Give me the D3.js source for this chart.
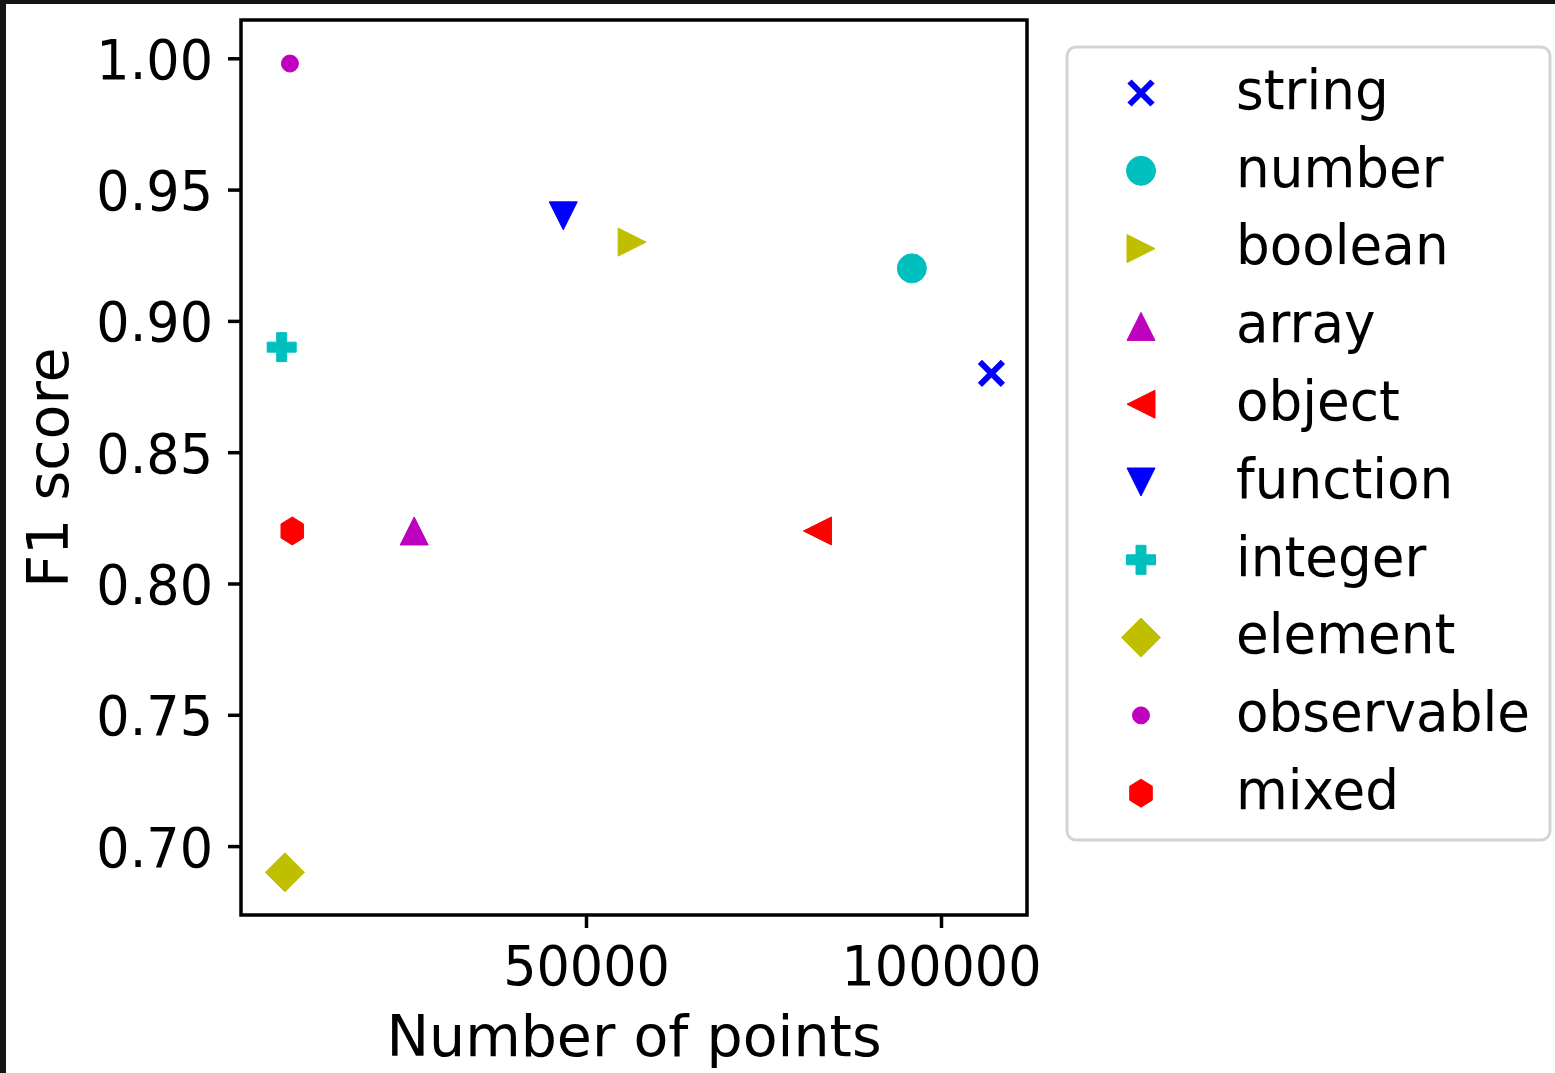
<!DOCTYPE html>
<html>
<head>
<meta charset="utf-8">
<script src="https://cdn.jsdelivr.net/npm/d3@7"></script>
<style>
  html, body { margin: 0; padding: 0; background: #ffffff; }
  svg { display: block; }
  text { font-family: "DejaVu Sans", sans-serif; fill: #000; }
</style>
</head>
<body>
<script>
// ---- data ----
const categories = ["string", "number", "boolean", "array", "object", "function", "integer", "element", "observable", "mixed"];
const numPoints  = [107100, 95900, 56500, 25800, 82600, 46800, 7140, 7600, 8300, 8630];
const f1Scores   = [0.88, 0.92, 0.93, 0.82, 0.82, 0.94, 0.89, 0.69, 0.998, 0.82];
const markerTypes = ["x", "o", ">", "^", "<", "v", "P", "D", ".", "h"];
const markerColors = ["#0000ff", "#00bfbf", "#bfbf00", "#bf00bf", "#ff0000", "#0000ff", "#00bfbf", "#bfbf00", "#bf00bf", "#ff0000"];
const xTickValues = [50000, 100000];
const yTickValues = [0.70, 0.75, 0.80, 0.85, 0.90, 0.95, 1.00];
const xLabel = "Number of points";
const yLabel = "F1 score";

// ---- layout ----
const W = 1555, H = 1073;
const plot = { left: 241, right: 1027, top: 20, bottom: 915 };
const tickFont = 55, labelFont = 57;

const svg = d3.select("body").append("svg").attr("width", W).attr("height", H);
svg.append("rect").attr("width", W).attr("height", H).attr("fill", "#ffffff");
// dark screenshot frame top & left
svg.append("rect").attr("x", 0).attr("y", 0).attr("width", W).attr("height", 4).attr("fill", "#141414");
svg.append("rect").attr("x", 0).attr("y", 0).attr("width", 6).attr("height", H).attr("fill", "#141414");

const x = d3.scaleLinear().domain([1408, 112113]).range([plot.left, plot.right]);
const y = d3.scaleLinear().domain([0.67376, 1.01458]).range([plot.bottom, plot.top]);

function condense(sel, factor) {
  sel.each(function () {
    const len = this.getComputedTextLength();
    d3.select(this).attr("textLength", len * factor).attr("lengthAdjust", "spacingAndGlyphs");
  });
}

// marker path generator
function markerPath(type) {
  const p = d3.path();
  const h = 14;
  switch (type) {
    case "o": p.arc(0, 0, 14.5, 0, 2 * Math.PI); break;
    case ".": p.arc(0, 0, 8.5, 0, 2 * Math.PI); break;
    case "^": p.moveTo(0, -h); p.lineTo(h, h); p.lineTo(-h, h); p.closePath(); break;
    case "v": p.moveTo(0, h); p.lineTo(h, -h); p.lineTo(-h, -h); p.closePath(); break;
    case ">": p.moveTo(h, 0); p.lineTo(-h, -h); p.lineTo(-h, h); p.closePath(); break;
    case "<": p.moveTo(-h, 0); p.lineTo(h, -h); p.lineTo(h, h); p.closePath(); break;
    case "D": { const d = 19.5; p.moveTo(0, -d); p.lineTo(d, 0); p.lineTo(0, d); p.lineTo(-d, 0); p.closePath(); break; }
    case "h": {
      const r = 14;
      for (let k = 0; k < 6; k++) {
        const a = -Math.PI / 2 + k * Math.PI / 3;
        const px = r * Math.cos(a) * 0.93, py = r * Math.sin(a);
        if (k === 0) p.moveTo(px, py); else p.lineTo(px, py);
      }
      p.closePath(); break;
    }
    case "P": {
      const s = 14.5, a = 5;
      const pts = [[-a,-s],[a,-s],[a,-a],[s,-a],[s,a],[a,a],[a,s],[-a,s],[-a,a],[-s,a],[-s,-a],[-a,-a]];
      pts.forEach((pt, i) => i === 0 ? p.moveTo(pt[0], pt[1]) : p.lineTo(pt[0], pt[1]));
      p.closePath(); break;
    }
    case "x": { const e = 11.5; p.moveTo(-e, -e); p.lineTo(e, e); p.moveTo(-e, e); p.lineTo(e, -e); break; }
  }
  return p.toString();
}
function drawMarker(sel, type, color) {
  if (type === "x") {
    sel.append("path").attr("d", markerPath(type)).attr("fill", "none")
      .attr("stroke", color).attr("stroke-width", 6).attr("stroke-linecap", "butt");
  } else {
    sel.append("path").attr("d", markerPath(type)).attr("fill", color)
      .attr("stroke", color).attr("stroke-width", 1).attr("stroke-linejoin", "round");
  }
}

// ---- axes ----
const xAxis = d3.axisBottom(x).tickValues(xTickValues).tickSize(13).tickPadding(8).tickFormat(d3.format("d"));
const yAxis = d3.axisLeft(y).tickValues(yTickValues).tickSize(13).tickPadding(15).tickFormat(d3.format(".2f"));

const gx = svg.append("g").attr("transform", `translate(0,${plot.bottom})`).call(xAxis);
const gy = svg.append("g").attr("transform", `translate(${plot.left},0)`).call(yAxis);
[gx, gy].forEach(g => {
  g.select(".domain").remove();
  g.selectAll(".tick line").attr("stroke", "#000").attr("stroke-width", 3.5);
  g.selectAll(".tick text").attr("font-family", "DejaVu Sans").attr("font-size", tickFont).attr("fill", "#000");
});
gx.selectAll(".tick text").attr("y", 70).attr("dy", null);
gy.selectAll(".tick text").attr("dy", "0.365em");
condense(gx.selectAll(".tick text"), 0.953);
condense(gy.selectAll(".tick text"), 0.953);

// ---- markers ----
const pts = svg.append("g");
categories.forEach((c, i) => {
  const g = pts.append("g").attr("transform", `translate(${x(numPoints[i])},${y(f1Scores[i])})`);
  drawMarker(g, markerTypes[i], markerColors[i]);
});

// frame
svg.append("rect")
  .attr("x", plot.left).attr("y", plot.top)
  .attr("width", plot.right - plot.left).attr("height", plot.bottom - plot.top)
  .attr("fill", "none").attr("stroke", "#000").attr("stroke-width", 3.5);

// axis labels
svg.append("text").attr("x", (plot.left + plot.right) / 2).attr("y", 1056)
  .attr("text-anchor", "middle").attr("font-size", labelFont).text(xLabel);
svg.append("text").attr("transform", `translate(68,${(plot.top + plot.bottom) / 2}) rotate(-90)`)
  .attr("text-anchor", "middle").attr("font-size", labelFont).text(yLabel);

// ---- legend ----
const leg = svg.append("g");
leg.append("rect").attr("x", 1067).attr("y", 47).attr("width", 1550 - 1067).attr("height", 840 - 47)
  .attr("rx", 9).attr("ry", 9).attr("fill", "#ffffff").attr("stroke", "#d4d4d4").attr("stroke-width", 3);
const rowStep = 77.8;
categories.forEach((c, i) => {
  const cy = 93 + i * rowStep;
  const g = leg.append("g").attr("transform", `translate(1141,${cy})`);
  drawMarker(g, markerTypes[i], markerColors[i]);
  leg.append("text").attr("x", 1236).attr("y", cy + 15.8).attr("font-size", tickFont).text(c);
});
condense(leg.selectAll("text"), 0.967);
</script>
</body>
</html>
